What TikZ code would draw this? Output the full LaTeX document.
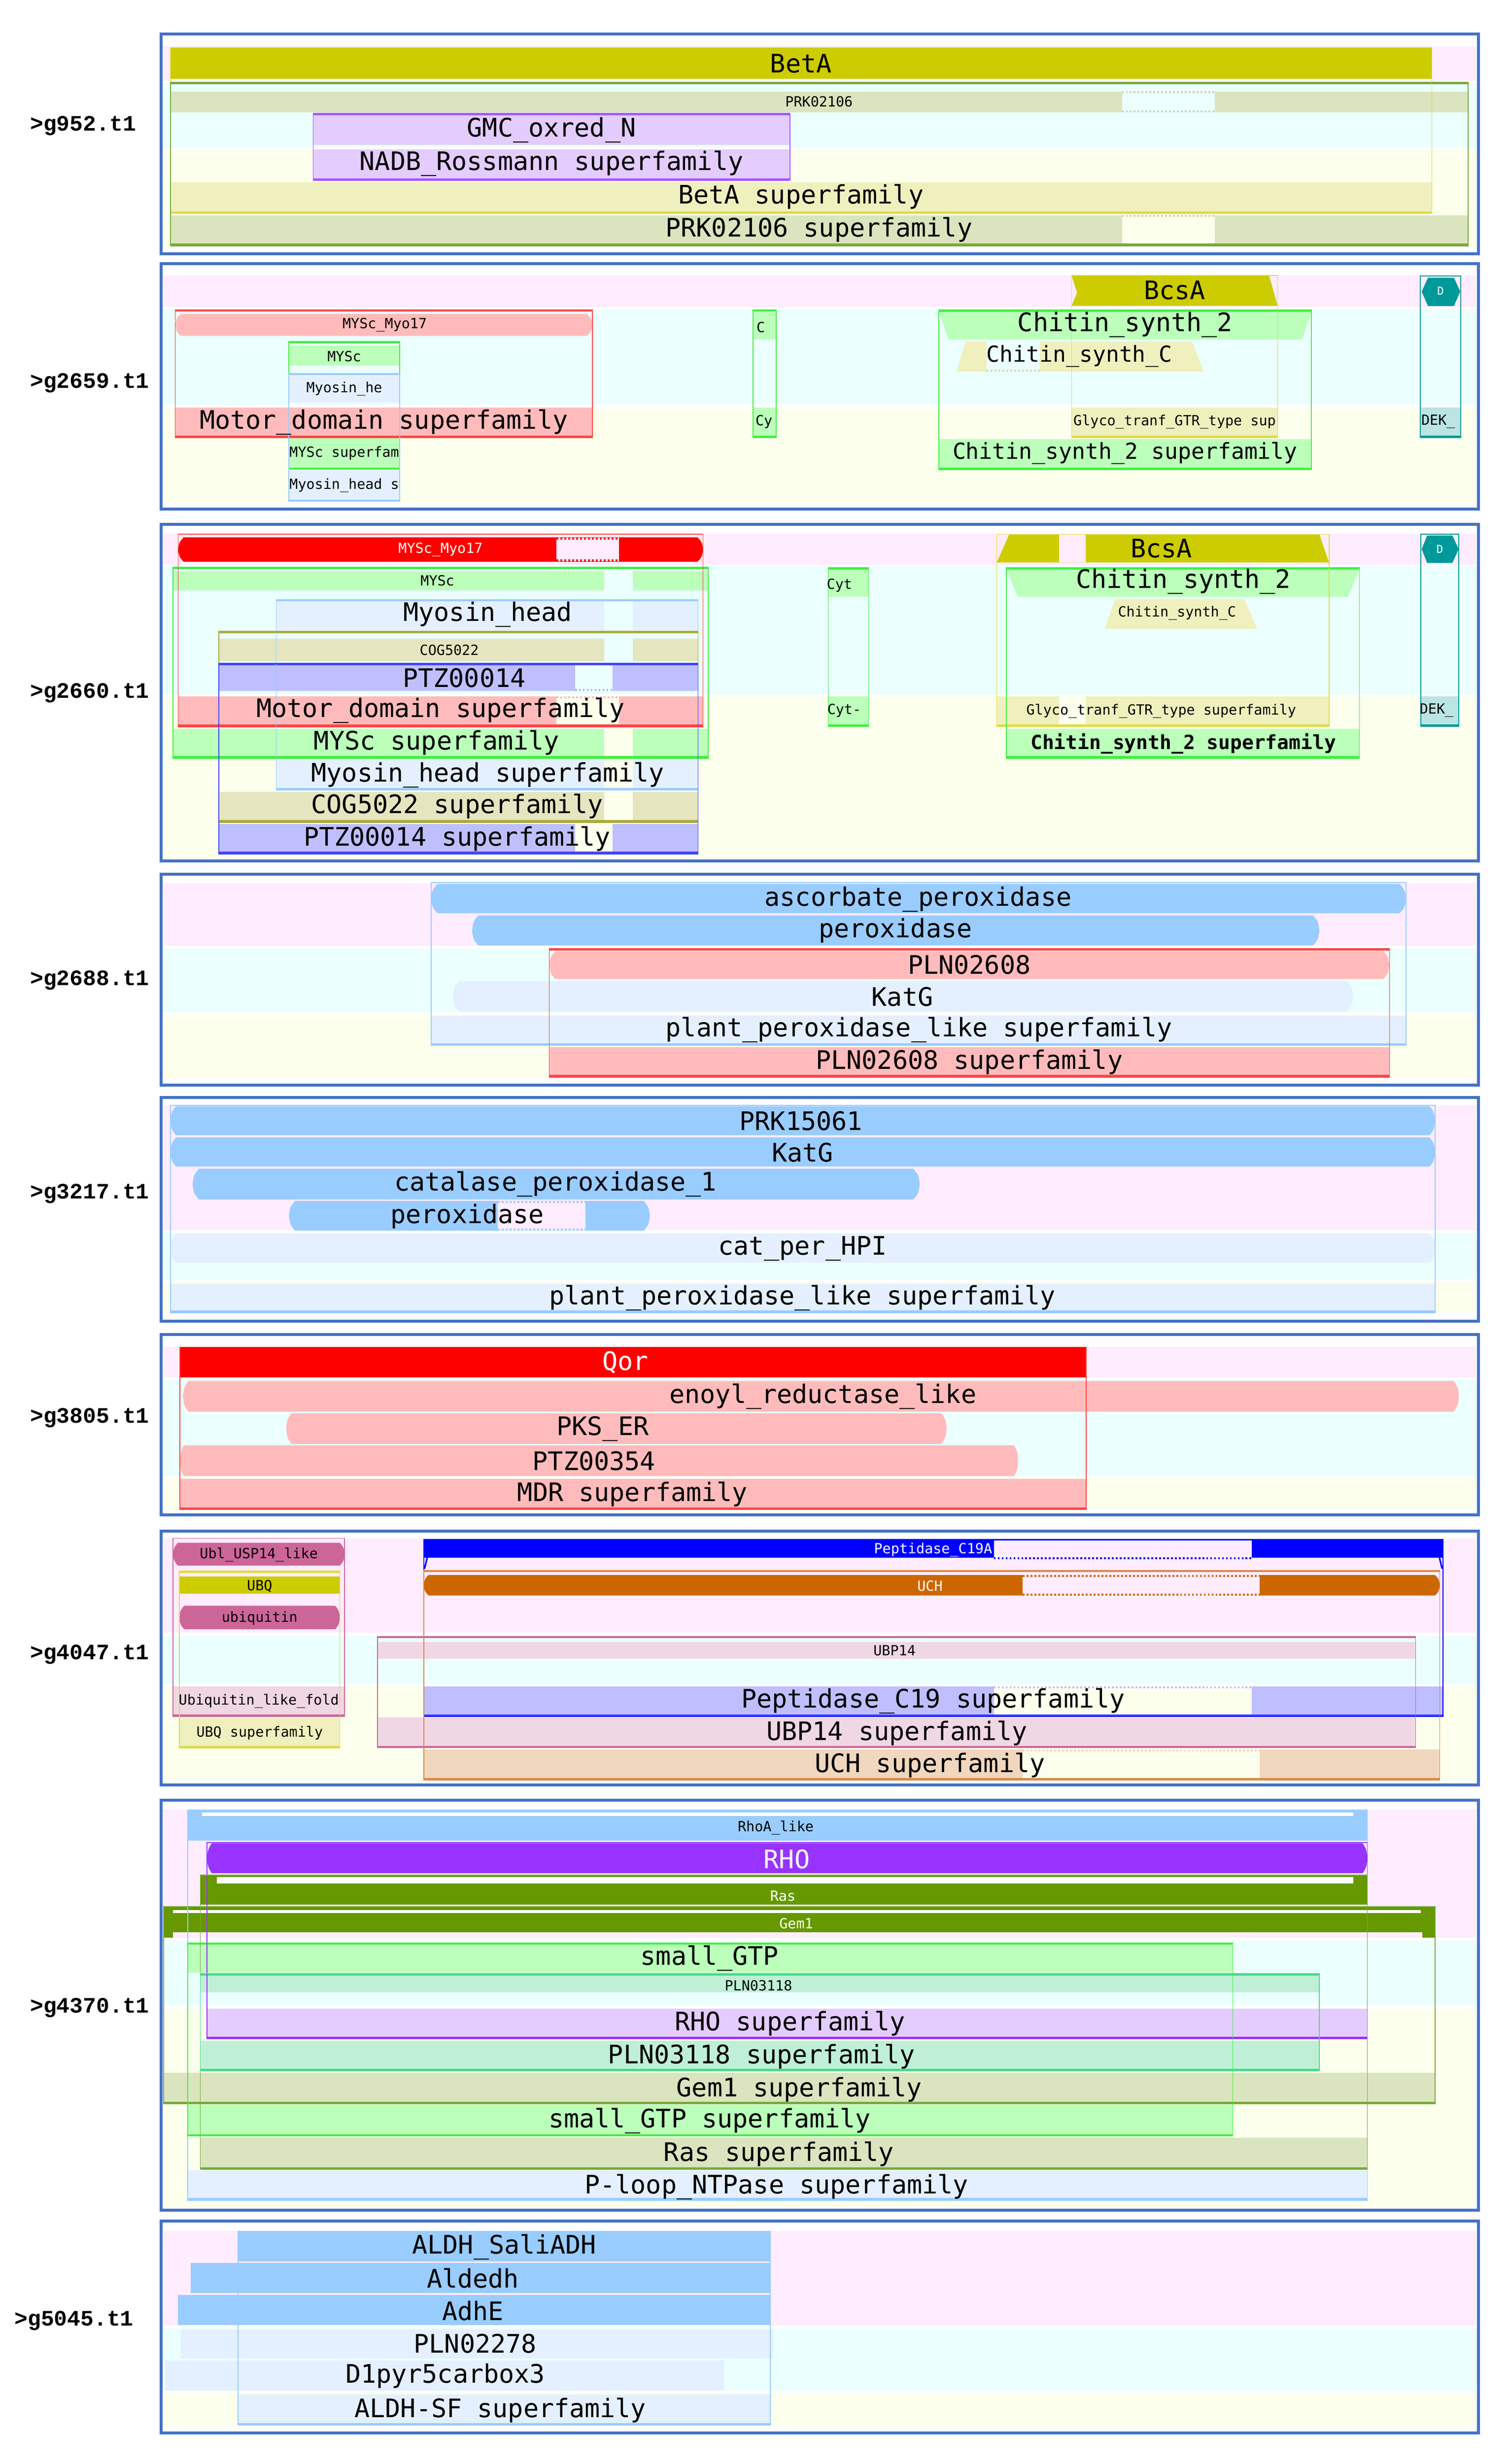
\documentclass[tikz,border=0pt]{standalone}
\usepackage{fontspec}
\setmainfont{DejaVu Sans Mono}
\newfontfamily\lblfont{Liberation Mono}
\definecolor{pb}{RGB}{68,114,196}
\definecolor{bP}{RGB}{255,236,255}
\definecolor{bC}{RGB}{236,255,255}
\definecolor{bY}{RGB}{252,255,236}
\definecolor{olv}{RGB}{204,204,0}
\definecolor{olvP}{RGB}{240,240,190}
\definecolor{olvL}{RGB}{221,221,68}
\definecolor{prk}{RGB}{218,228,190}
\definecolor{prkL}{RGB}{120,170,60}
\definecolor{lav}{RGB}{228,204,255}
\definecolor{purL}{RGB}{170,85,255}
\definecolor{pr}{RGB}{255,187,187}
\definecolor{redL}{RGB}{255,68,68}
\definecolor{rd}{RGB}{255,0,0}
\definecolor{grn}{RGB}{187,255,187}
\definecolor{grnL}{RGB}{68,238,68}
\definecolor{lb}{RGB}{228,240,255}
\definecolor{lbL}{RGB}{153,204,255}
\definecolor{blu}{RGB}{153,204,255}
\definecolor{tanF}{RGB}{229,229,192}
\definecolor{tanL}{RGB}{170,170,60}
\definecolor{vio}{RGB}{191,191,255}
\definecolor{vioL}{RGB}{68,68,255}
\definecolor{tl}{RGB}{0,153,153}
\definecolor{tlP}{RGB}{187,228,228}
\definecolor{mag}{RGB}{204,102,153}
\definecolor{magP}{RGB}{240,215,228}
\definecolor{bluS}{RGB}{0,0,255}
\definecolor{org}{RGB}{204,102,0}
\definecolor{orgP}{RGB}{240,215,190}
\definecolor{orgL}{RGB}{221,136,68}
\definecolor{pur}{RGB}{153,51,255}
\definecolor{gd}{RGB}{102,153,0}
\definecolor{mnt}{RGB}{191,240,215}
\definecolor{mntL}{RGB}{68,221,136}
\newcommand\Rf[5]{\fill[#5] (#1,#2) rectangle (#3,#4);}
\newcommand\Bul[6]{\fill[#6] ({#1+#5},#2) -- ({#3-#5},#2) .. controls ({#3-#5*0.2},{#2+(#4-#2)*0.2}) .. (#3,{(#2+#4)/2}) .. controls ({#3-#5*0.2},{#4-(#4-#2)*0.2}) .. ({#3-#5},#4) -- ({#1+#5},#4) .. controls ({#1+#5*0.2},{#4-(#4-#2)*0.2}) .. (#1,{(#2+#4)/2}) .. controls ({#1+#5*0.2},{#2+(#4-#2)*0.2}) .. cycle;}
\newcommand\Dots[4]{\draw[gapd,#4] (#1,#3) -- (#2,#3);}
\newcommand\Bands[6]{\fill[bP] (104,#1) rectangle (938,#2);\fill[bC] (104,#3) rectangle (938,#4);\fill[bY] (104,#5) rectangle (938,#6);}
\tikzset{
 txL/.style={font=\fontsize{16.2}{18}\selectfont, inner sep=0pt},
 txM/.style={font=\fontsize{14}{16}\selectfont, inner sep=0pt},
 txB/.style={font=\bfseries\fontsize{12.4}{14}\selectfont, inner sep=0pt},
 txS/.style={font=\fontsize{8.9}{10}\selectfont, inner sep=0pt},
 txT/.style={font=\fontsize{7}{8}\selectfont, inner sep=0pt},
 lbl/.style={font={\lblfont\bfseries\fontsize{14}{16}\selectfont}, anchor=west, inner sep=0pt},
 frame/.style={draw=pb, line width=1.8pt},
 ol/.style={line width=0.5pt},
 gapd/.style={line width=1.2pt, dash pattern=on 1.2pt off 1.3pt},
}
\begin{document}
\begin{tikzpicture}[x=1pt,y=-1pt]
\useasboundingbox (0,0) rectangle (960,1566);
\fill[white] (0,0) rectangle (960,1566);

% ================= Panel 1 : g952.t1
\Bands{29.5}{51.5}{52.5}{94}{95}{157}
\Rf{108.3}{30.2}{910}{50.2}{olv}
\Rf{108.3}{52.3}{933}{53.6}{prkL}
\Rf{108.3}{58.1}{933}{71.4}{prk}
\Rf{713}{57.8}{772}{71.8}{bC}
\Dots{713}{772}{58.5}{prk!85!gray}
\Dots{713}{772}{70.9}{prk!85!gray}
\Rf{199}{72}{502}{73.3}{purL}
\Rf{199}{73.3}{502}{92}{lav}
\Rf{199}{95}{502}{113.3}{lav}
\Rf{199}{113.3}{502}{114.8}{purL}
\Rf{108.3}{115.9}{910}{134.4}{olvP}
\Rf{108.3}{134.4}{910}{135.7}{olvL}
\Rf{108.3}{136.8}{933}{154.8}{prk}
\Rf{108.3}{154.8}{933}{156.5}{prkL}
\Rf{713}{136.5}{772}{154.8}{bY}
\Dots{713}{772}{137.3}{prk!85!gray}
\draw[ol,olvL] (108.3,30.2) rectangle (910,135.7);
\draw[ol,prkL] (108.3,52.3) rectangle (933,156.5);
\draw[ol,purL] (199,72) rectangle (502,114.8);
\node[txL] (a1) at (509,40.5) {BetA};
\node[txS] (a2) at (520.5,64.7) {PRK02106};
\node[txL] (a3) at (350.5,82.6) {GMC\_oxred\_N};
\node[txL] (a4) at (350.5,104) {NADB\_Rossmann superfamily};
\node[txL] (a5) at (509,125) {BetA superfamily};
\node[txL] (a6) at (520.5,146) {PRK02106 superfamily};
\node[lbl] (g952) at (19,80) {>g952.t1};
\draw[frame] (102.5,21.7) rectangle (939.5,161.2);

% ================= Panel 2 : g2659.t1
\Bands{175}{195}{196.5}{257}{259}{319.5}
\Rf{111.4}{196.8}{376.4}{198}{redL}
\Bul{111.4}{199.5}{376.4}{213.5}{3.5}{pr}
\Rf{183.6}{217}{254}{218.4}{grnL}
\Rf{183.6}{219.5}{254}{232.5}{grn}
\Rf{183.6}{237.2}{254}{238.2}{lbL}
\Rf{183.6}{238.2}{254}{256}{lb}
\Rf{111.4}{259.1}{376.4}{276.9}{pr}
\Rf{111.4}{276.9}{376.4}{278.1}{redL}
\Rf{183.6}{278.4}{254}{297.2}{grn}
\Rf{183.6}{297.2}{254}{298.3}{grnL}
\Rf{183.6}{298.8}{254}{317.6}{lb}
\Rf{183.6}{317.6}{254}{318.7}{lbL}
\draw[ol,redL] (111.4,196.8) rectangle (376.4,278.1);
\draw[ol,grnL] (183.6,217) rectangle (254,298.3);
\draw[ol,lbL] (183.6,237.2) rectangle (254,318.7);
% C / Cy
\Rf{478.6}{196.8}{493.3}{198}{grnL}
\Rf{478.6}{198}{493.3}{215.8}{grn}
\Rf{478.6}{259}{493.3}{277}{grn}
\Rf{478.6}{277}{493.3}{278.1}{grnL}
\draw[ol,grnL] (478.6,196.8) rectangle (493.3,278.1);
% BcsA and Chitin
\fill[olv] (681,175.1) -- (806.5,175.1) -- (812,194.4) -- (681,194.4) -- (684.5,186) -- cycle;
\Rf{596.7}{196.8}{833.5}{198.2}{grnL}
\fill[grn] (596.7,198.2) -- (833.5,198.2) -- (827.4,215.8) -- (602.8,215.8) -- cycle;
\fill[olvP] (613.5,217) -- (757.5,217) -- (765,236.2) -- (608,236.2) -- cycle;
\Rf{627}{217}{661}{236.2}{bC}
\Dots{627}{661}{235.5}{olvP!80!gray}
\Rf{681}{259}{812}{277}{olvP}
\Rf{681}{277}{812}{278.1}{olvL}
\Rf{596.7}{279}{833.5}{297.2}{grn}
\Rf{596.7}{297.2}{833.5}{298.5}{grnL}
\draw[ol,olvL] (681,175.1) rectangle (812,278.1);
\draw[ol,grnL] (596.7,196.8) rectangle (833.5,298.5);
% DEK
\fill[tl] (903.5,185.3) -- (907.5,176.5) -- (924,176.5) -- (928,185.3) -- (924,194.5) -- (907.5,194.5) -- cycle;
\Rf{902.7}{259}{928.4}{277}{tlP}
\Rf{902.7}{277}{928.4}{278.1}{tl}
\draw[ol,tl] (902.7,175.3) rectangle (928.4,278.1);
\node[txS] (b1) at (244.5,206.5) {MYSc\_Myo17};
\node[txS] (b2) at (218.8,226.5) {MYSc};
\node[txS] (b3) at (218.8,247) {Myosin\_he};
\node[txL] (b4) at (243.9,268.5) {Motor\_domain superfamily};
\node[txS] (b5) at (218.8,288) {MYSc superfam};
\node[txS] (b6) at (218.8,308.5) {Myosin\_head s};
\node[txS] (b7) at (483.5,208) {C};
\node[txS] (b8) at (485.5,268) {Cy};
\node[txL] (b9) at (746.5,184.5) {BcsA};
\node[txL] (b10) at (715,206.5) {Chitin\_synth\_2};
\node[txM] (b11) at (686,226.5) {Chitin\_synth\_C};
\node[txS] (b12) at (746.5,268) {Glyco\_tranf\_GTR\_type sup};
\node[txM] (b13) at (715,288) {Chitin\_synth\_2 superfamily};
\node[txT, text=white] (b14) at (915.5,185) {D};
\node[txS] (b15) at (914,268) {DEK\_};
\node[lbl] (g2659) at (19,243.5) {>g2659.t1};
\draw[frame] (102.5,167.6) rectangle (939.5,323.6);

% ================= Panel 3 : g2660.t1
\Bands{339.2}{359}{359.7}{441.3}{442.7}{545.6}
\Bul{113.2}{341.5}{446.8}{357}{3.5}{rd}
\Rf{353.7}{341.8}{393.5}{356.7}{bP}
\Dots{353.7}{393.5}{342.4}{rd}
\Dots{353.7}{393.5}{356.2}{rd}
\Rf{110}{360.3}{450}{361.7}{grnL}
\Rf{110}{363}{450}{375.1}{grn}
\Rf{384}{362}{402}{375.5}{bC}
\Rf{175.6}{381}{443.7}{382}{lbL}
\Rf{175.6}{382}{443.7}{400.5}{lb}
\Rf{384}{382}{402}{400.5}{bC}
\Rf{139}{401.2}{443.7}{402.6}{tanL}
\Rf{139}{406}{443.7}{420.2}{tanF}
\Rf{384}{402.6}{402}{420.2}{bC}
\Rf{139}{421.6}{443.7}{422.8}{vioL}
\Rf{139}{422.8}{443.7}{439.2}{vio}
\Rf{365.4}{422.8}{389.3}{439.2}{bC}
\Dots{365.4}{389.3}{438.6}{vio!80!gray}
\Rf{113.2}{442.7}{446.8}{460.3}{pr}
\Rf{113.2}{460.3}{446.8}{462}{redL}
\Rf{353.7}{442.7}{393.5}{460.3}{bY}
\Dots{353.7}{393.5}{443.3}{pr}
\Rf{110}{463.2}{450}{480.5}{grn}
\Rf{110}{480.5}{450}{482}{grnL}
\Rf{384}{463.2}{402}{480.5}{bY}
\Rf{175.6}{482.9}{443.7}{500.8}{lb}
\Rf{175.6}{500.8}{443.7}{502.2}{lbL}
\Rf{384}{482.9}{402}{500.8}{bY}
\Rf{139}{503.3}{443.7}{521.2}{tanF}
\Rf{139}{521.2}{443.7}{522.7}{tanL}
\Rf{384}{503.3}{402}{521.2}{bY}
\Rf{139}{523.7}{443.7}{541.3}{vio}
\Rf{139}{541.3}{443.7}{542.8}{vioL}
\Rf{365.4}{523.7}{389.3}{541.3}{bY}
\draw[ol,redL] (113.2,339.5) rectangle (446.8,462);
\draw[ol,grnL] (110,360.3) rectangle (450,482);
\draw[ol,lbL] (175.6,381) rectangle (443.7,502.2);
\draw[ol,tanL] (139,401.2) rectangle (443.7,522.7);
\draw[ol,vioL] (139,421.6) rectangle (443.7,542.8);
% Cyt
\Rf{526.3}{360.7}{552}{362}{grnL}
\Rf{526.3}{362}{552}{379.3}{grn}
\Rf{526.3}{442.7}{552}{460.3}{grn}
\Rf{526.3}{460.3}{552}{461.7}{grnL}
\draw[ol,grnL] (526.3,360.7) rectangle (552,461.7);
% BcsA / Chitin
\fill[olv] (641.4,339.6) -- (838.5,339.6) -- (844.6,357.5) -- (633.4,357.5) -- cycle;
\Rf{673}{339.6}{690}{357.5}{bP}
\Rf{639.5}{360.7}{864}{362}{grnL}
\fill[grn] (639.5,362) -- (864,362) -- (856.5,379.3) -- (647,379.3) -- cycle;
\fill[olvP] (708.7,380.7) -- (790.7,380.7) -- (799,399.7) -- (702,399.7) -- cycle;
\Rf{633.4}{442.7}{844.6}{460.3}{olvP}
\Rf{633.4}{460.3}{844.6}{461.7}{olvL}
\Rf{673}{442.7}{690}{460.3}{bY}
\Rf{639.5}{463.2}{864}{480.5}{grn}
\Rf{639.5}{480.5}{864}{482}{grnL}
\draw[ol,olvL] (633.4,339.6) rectangle (844.6,461.7);
\draw[ol,grnL] (639.5,360.7) rectangle (864,482);
% DEK
\fill[tl] (903.5,349) -- (907,340.3) -- (923,340.3) -- (927,349) -- (923,357.8) -- (907,357.8) -- cycle;
\Rf{903}{442.7}{927}{460.3}{tlP}
\Rf{903}{460.3}{927}{461.7}{tl}
\draw[ol,tl] (903,339.5) rectangle (927,461.7);
\node[txS, text=white] (c1) at (280,349.2) {MYSc\_Myo17};
\node[txS] (c2) at (278,369) {MYSc};
\node[txL] (c3) at (310,390.5) {Myosin\_head};
\node[txS] (c4) at (285.5,413) {COG5022};
\node[txL] (c5) at (295,431) {PTZ00014};
\node[txL] (c6) at (280,451.5) {Motor\_domain superfamily};
\node[txL] (c7) at (277.5,472) {MYSc superfamily};
\node[txL] (c8) at (310,492.5) {Myosin\_head superfamily};
\node[txL] (c9) at (290.5,512.5) {COG5022 superfamily};
\node[txL] (c10) at (290.5,533) {PTZ00014 superfamily};
\node[txS] (c11) at (533.5,372) {Cyt};
\node[txS] (c12) at (536.5,451.5) {Cyt-};
\node[txL] (c13) at (738,348.5) {BcsA};
\node[txL] (c14) at (752,369.5) {Chitin\_synth\_2};
\node[txS] (c15) at (748,389.5) {Chitin\_synth\_C};
\node[txS] (c16) at (738,452) {Glyco\_tranf\_GTR\_type superfamily};
\node[txB] (c17) at (752,472.5) {Chitin\_synth\_2 superfamily};
\node[txT, text=white] (c18) at (915,349) {D};
\node[txS] (c19) at (913,451.5) {DEK\_};
\node[lbl] (g2660) at (19,440.5) {>g2660.t1};
\draw[frame] (102.5,333.3) rectangle (939.5,547.2);

% ================= Panel 4 : g2688.t1
\Bands{561.3}{601}{603}{643.2}{645}{685}
\Bul{274}{561.8}{893.5}{580.4}{4}{blu}
\Bul{300}{581.8}{838.5}{600.9}{4}{blu}
\Rf{349}{602.7}{883}{604}{redL}
\Bul{349}{604.5}{883}{622.2}{4}{pr}
\Bul{287.7}{623.6}{860}{643.1}{4}{lb}
\Rf{274}{645.4}{893.5}{663.1}{lb}
\Rf{274}{663.1}{893.5}{664.5}{lbL}
\Rf{349}{665.4}{883}{683.1}{pr}
\Rf{349}{683.1}{883}{684.6}{redL}
\draw[ol,lbL] (274,561) rectangle (893.5,664.5);
\draw[ol,redL] (349,602.7) rectangle (883,684.6);
\node[txL] (d1) at (583.5,571.5) {ascorbate\_peroxidase};
\node[txL] (d2) at (569,591.5) {peroxidase};
\node[txL] (d3) at (616,613) {PLN02608};
\node[txL] (d4) at (573.5,633.5) {KatG};
\node[txL] (d5) at (584,654.5) {plant\_peroxidase\_like superfamily};
\node[txL] (d6) at (616,675) {PLN02608 superfamily};
\node[lbl] (g2688) at (19,623) {>g2688.t1};
\draw[frame] (102.5,555.5) rectangle (939.5,689.6);

% ================= Panel 5 : g3217.t1
\Bands{702.5}{781.7}{783.6}{813.4}{815}{834}
\Bul{108.3}{703}{912}{721.5}{3.5}{blu}
\Bul{108.3}{722.9}{912}{741.4}{3.5}{blu}
\Bul{122.4}{742.8}{584.5}{762.3}{4}{blu}
\Bul{183.6}{763.2}{413}{782.2}{4}{blu}
\Rf{316.4}{763.2}{372}{782.2}{bP}
\Dots{316.4}{372}{764}{blu}
\Dots{316.4}{372}{781.5}{blu}
\Bul{108.3}{784}{912}{802.5}{3.5}{lb}
\Rf{108.3}{815.8}{912}{832.9}{lb}
\Rf{108.3}{832.9}{912}{834.3}{lbL}
\draw[ol,lbL] (108.3,702.5) rectangle (912,834.3);
\node[txL] (e1) at (509,712.5) {PRK15061};
\node[txL] (e2) at (510,732.5) {KatG};
\node[txL] (e3) at (353,752.5) {catalase\_peroxidase\_1};
\node[txL] (e4) at (297,773) {peroxidase};
\node[txL] (e5) at (510,793.5) {cat\_per\_HPI};
\node[txL] (e6) at (510,825) {plant\_peroxidase\_like superfamily};
\node[lbl] (g3217) at (19,758.5) {>g3217.t1};
\draw[frame] (102.5,697.5) rectangle (939.5,839.6);

% ================= Panel 6 : g3805.t1
\Bands{856}{875.5}{876.8}{938.1}{939.5}{959.5}
\Rf{114.4}{856.1}{690.3}{875.4}{rd}
\Bul{116.3}{877.7}{927.2}{897.2}{3.5}{pr}
\Bul{181.8}{898.1}{601.6}{917.7}{3.5}{pr}
\Bul{114.4}{918.6}{647}{938.1}{2.5}{pr}
\Rf{114.4}{940}{690.3}{958.1}{pr}
\Rf{114.4}{958.1}{690.3}{959.5}{redL}
\draw[ol,redL] (114.4,856.1) rectangle (690.3,959.5);
\node[txL, text=white] (f1) at (397.5,866) {Qor};
\node[txL] (f2) at (523,887.5) {enoyl\_reductase\_like};
\node[txL] (f3) at (383,908) {PKS\_ER};
\node[txL] (f4) at (377.5,928.5) {PTZ00354};
\node[txL] (f5) at (402,949.5) {MDR superfamily};
\node[lbl] (g3805) at (19,901) {>g3805.t1};
\draw[frame] (102.5,848.2) rectangle (939.5,962.7);

% ================= Panel 7 : g4047.t1
\Bands{977.7}{1037.6}{1039.8}{1070.2}{1071.8}{1131.7}
\Bul{110}{980.5}{219}{995}{3}{mag}
\Rf{114}{998.5}{216}{999.6}{olvL}
\Rf{114}{1001.8}{216}{1013}{olv}
\Bul{114}{1020.5}{216}{1035.5}{3}{mag}
\Rf{110}{1071.8}{219}{1089.5}{magP}
\Rf{110}{1089.5}{219}{1090.8}{mag}
\Rf{114}{1091.6}{216}{1109.8}{olvP}
\Rf{114}{1109.8}{216}{1111}{olvL}
\draw[ol,mag] (110,977.7) rectangle (219,1090.8);
\draw[ol,olvL] (114,998.5) rectangle (216,1111);
% Peptidase_C19A
\Rf{269.3}{978.3}{917}{990}{bluS}
\Rf{631.6}{979}{795.6}{990}{bP}
\Dots{631.6}{795.6}{990.3}{bluS}
\draw[bluS, line width=1pt] (271.5,990) -- (269.8,997);
\draw[bluS, line width=1pt] (914.8,990) -- (916.5,997);
% UCH
\Rf{269.3}{998}{915}{999}{orgL}
\Bul{269.3}{1001}{915}{1014}{3}{org}
\Rf{650}{1001}{800.5}{1014}{bP}
\Dots{650}{800.5}{1001.6}{org}
\Dots{650}{800.5}{1013.4}{org}
% UBP14
\Rf{240}{1040}{899.6}{1041.2}{mag}
\Rf{240}{1043.5}{899.6}{1054.2}{magP}
% superfamilies
\Rf{269.3}{1071.8}{917}{1089.5}{vio}
\Rf{269.3}{1089.5}{917}{1090.8}{vioL}
\Rf{631.6}{1071.8}{795.6}{1089.5}{bY}
\Dots{631.6}{795.6}{1072.5}{vio}
\Rf{240}{1091.6}{899.6}{1109.6}{magP}
\Rf{240}{1109.6}{899.6}{1110.8}{mag}
\Rf{269.3}{1111.9}{915}{1130}{orgP}
\Rf{269.3}{1130}{915}{1131.3}{orgL}
\Rf{650}{1111.9}{800.5}{1130}{bY}
\Dots{650}{800.5}{1112.6}{orgP}
\draw[ol,bluS] (269.3,978.3) rectangle (917,1090.8);
\draw[ol,orgL] (269.3,998) rectangle (915,1131.3);
\draw[ol,mag] (240,1040) rectangle (899.6,1110.8);
\node[txS] (h1) at (164.5,988) {Ubl\_USP14\_like};
\node[txS] (h2) at (165,1008) {UBQ};
\node[txS] (h3) at (165,1028.5) {ubiquitin};
\node[txS] (h4) at (164.5,1081) {Ubiquitin\_like\_fold};
\node[txS] (h5) at (165,1101.5) {UBQ superfamily};
\node[txS, text=white] (h6) at (593,985) {Peptidase\_C19A};
\node[txS, text=white] (h7) at (591,1008) {UCH};
\node[txS] (h8) at (568.5,1049) {UBP14};
\node[txL] (h9) at (593,1081) {Peptidase\_C19 superfamily};
\node[txL] (h10) at (570,1101.5) {UBP14 superfamily};
\node[txL] (h11) at (591,1122) {UCH superfamily};
\node[lbl] (g4047) at (19,1051.5) {>g4047.t1};
\draw[frame] (102.5,973.2) rectangle (939.5,1134.5);

% ================= Panel 8 : g4370.t1
\Bands{1150.2}{1231.6}{1233.3}{1274}{1276.6}{1403}
\Rf{119.3}{1150.2}{869}{1169.7}{blu}
\Rf{128.5}{1151.9}{860}{1154.1}{white}
\Bul{131.6}{1171.5}{869}{1190.5}{3}{pur}
\Rf{127.3}{1191.8}{869}{1210.4}{gd}
\Rf{137.7}{1193.1}{860}{1196.9}{white}
\Rf{104}{1211.8}{912}{1228}{gd}
\Rf{104}{1228}{110}{1231.6}{gd}
\Rf{904}{1228}{912}{1231.6}{gd}
\Rf{110}{1213.8}{903}{1215.9}{white}
\Rf{119.3}{1234.8}{783.4}{1236}{grnL}
\Rf{119.3}{1236}{783.4}{1253.7}{grn}
\Rf{127.3}{1254.3}{838.5}{1255.5}{mntL}
\Rf{127.3}{1255.5}{838.5}{1266.4}{mnt}
\Rf{131.6}{1276.6}{869}{1294.4}{lav}
\Rf{131.6}{1294.4}{869}{1295.6}{pur}
\Rf{127.3}{1296.9}{838.5}{1314.7}{mnt}
\Rf{127.3}{1314.7}{838.5}{1316}{mntL}
\Rf{104}{1317.3}{912}{1335.9}{prk}
\Rf{104}{1335.9}{912}{1337}{prkL}
\Rf{119.3}{1337.6}{783.4}{1356.3}{grn}
\Rf{119.3}{1356.3}{783.4}{1357.5}{grnL}
\Rf{127.3}{1358.8}{869}{1377.5}{prk}
\Rf{127.3}{1377.5}{869}{1378.6}{prkL}
\Rf{119.3}{1379.2}{869}{1397}{lb}
\Rf{119.3}{1397}{869}{1398.5}{lbL}
\draw[ol,lbL] (119.3,1150.2) rectangle (869,1398.5);
\draw[ol,pur] (131.6,1171) rectangle (869,1295.6);
\draw[ol,prkL] (127.3,1191.8) rectangle (869,1378.6);
\draw[ol,prkL] (104,1211.8) rectangle (912,1337);
\draw[ol,grnL] (119.3,1234.8) rectangle (783.4,1357.5);
\draw[ol,mntL] (127.3,1254.3) rectangle (838.5,1316);
\node[txS] (k1) at (493,1161.5) {RhoA\_like};
\node[txL, text=white] (k2) at (500,1181.5) {RHO};
\node[txS, text=white] (k3) at (497.5,1205) {Ras};
\node[txS, text=white] (k4) at (506,1222.5) {Gem1};
\node[txL] (k5) at (451,1244.5) {small\_GTP};
\node[txS] (k6) at (482,1262) {PLN03118};
\node[txL] (k7) at (502,1286) {RHO superfamily};
\node[txL] (k8) at (484,1307) {PLN03118 superfamily};
\node[txL] (k9) at (508,1328) {Gem1 superfamily};
\node[txL] (k10) at (451,1348) {small\_GTP superfamily};
\node[txL] (k11) at (495,1369) {Ras superfamily};
\node[txL] (k12) at (493.5,1390) {P-loop\_NTPase superfamily};
\node[lbl] (g4370) at (19,1276) {>g4370.t1};
\draw[frame] (102.5,1144) rectangle (939.5,1404.8);

% ================= Panel 9 : g5045.t1
\Bands{1417.7}{1478.1}{1479.5}{1519.6}{1521}{1541.3}
\Rf{151.2}{1418}{489.6}{1437.1}{blu}
\Rf{121.2}{1438.3}{489.6}{1457.4}{blu}
\Rf{113.2}{1458.6}{489.6}{1477.7}{blu}
\Rf{115}{1480.4}{491.4}{1498.9}{lb}
\Rf{105.3}{1500.3}{460.2}{1519.2}{lb}
\Rf{151.2}{1521.9}{489.6}{1539.9}{lb}
\Rf{151.2}{1539.9}{489.6}{1541.3}{lbL}
\draw[ol,lbL] (151.2,1418) rectangle (489.6,1541.3);
\node[txL] (m1) at (320.5,1428) {ALDH\_SaliADH};
\node[txL] (m2) at (300.5,1448) {Aldedh};
\node[txL] (m3) at (300.5,1468.5) {AdhE};
\node[txL] (m4) at (302,1489.5) {PLN02278};
\node[txL] (m5) at (283,1510) {D1pyr5carbox3};
\node[txL] (m6) at (318,1532) {ALDH-SF superfamily};
\node[lbl] (g5045) at (9,1475) {>g5045.t1};
\draw[frame] (102.5,1411.5) rectangle (939.5,1546.3);
\end{tikzpicture}
\end{document}
